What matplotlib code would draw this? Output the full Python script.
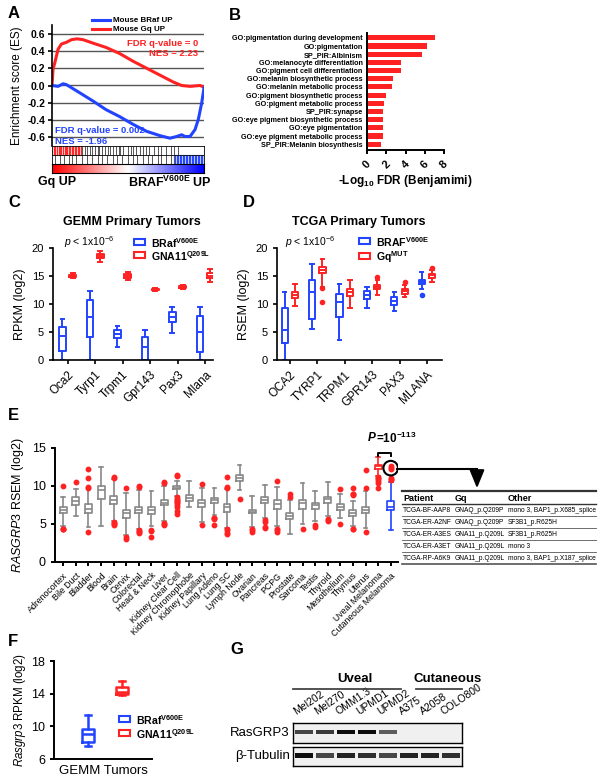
import numpy as np
import matplotlib
matplotlib.use('Agg')
import matplotlib.pyplot as plt
from matplotlib.patches import Rectangle
from matplotlib.colors import LinearSegmentedColormap

plt.rcParams['font.family'] = ['Liberation Sans', 'DejaVu Sans']
plt.rcParams['mathtext.fontset'] = 'custom'
plt.rcParams['mathtext.rm'] = 'Liberation Sans'
plt.rcParams['mathtext.it'] = 'Liberation Sans:italic'
plt.rcParams['mathtext.bf'] = 'Liberation Sans:bold'
plt.rcParams['mathtext.default'] = 'regular'

RED = '#ff2222'
BLUE = '#2244ff'
GRAY = '#888888'

# ---------------- data ----------------
# A: running enrichment score (rank fraction, ES)
gq_rank = [0, 0.007, 0.018, 0.04, 0.062, 0.095, 0.128, 0.165, 0.205, 0.27, 0.356, 0.445, 0.534, 0.622, 0.71, 0.798, 0.853, 0.908, 0.974, 1.0]
gq_es = [0, 0.19, 0.26, 0.42, 0.48, 0.50, 0.53, 0.54, 0.53, 0.49, 0.44, 0.37, 0.28, 0.20, 0.12, 0.04, 0.0, -0.01, 0.0, -0.02]
braf_rank = [0, 0.04, 0.073, 0.095, 0.183, 0.27, 0.356, 0.445, 0.534, 0.622, 0.71, 0.776, 0.82, 0.853, 0.875, 0.908, 0.941, 0.963, 0.985, 1.0]
braf_es = [0, -0.01, 0.02, 0.01, -0.085, -0.18, -0.28, -0.36, -0.45, -0.53, -0.58, -0.61, -0.59, -0.57, -0.59, -0.59, -0.51, -0.39, -0.20, -0.03]
gq_hits = [0.01, 0.02, 0.03, 0.045, 0.05, 0.06, 0.075, 0.085, 0.09, 0.10, 0.11, 0.12, 0.13, 0.14, 0.15,
           0.16, 0.17, 0.18, 0.19, 0.2, 0.215, 0.23, 0.25, 0.26, 0.28, 0.3, 0.31, 0.33, 0.35, 0.37, 0.38,
           0.4, 0.42, 0.44, 0.45, 0.47, 0.5, 0.52, 0.53, 0.55, 0.58, 0.6, 0.62, 0.64, 0.67, 0.7, 0.72,
           0.75, 0.78, 0.8, 0.83]
braf_hits = [0.02, 0.05, 0.08, 0.11, 0.13, 0.16, 0.2, 0.23, 0.26, 0.3, 0.33, 0.36, 0.4, 0.43, 0.46, 0.5,
             0.53, 0.56, 0.6, 0.63, 0.66, 0.7, 0.72, 0.75, 0.78, 0.8, 0.81, 0.82, 0.83, 0.84, 0.85, 0.86,
             0.87, 0.88, 0.89, 0.9, 0.91, 0.92, 0.93, 0.94, 0.95, 0.96, 0.97, 0.98, 0.99]

# B: GO terms
go_terms = ['GO:pigmentation during development', 'GO:pigmentation', 'SP_PIR:Albinism',
            'GO:melanocyte differentiation', 'GO:pigment cell differentiation',
            'GO:melanin biosynthetic process', 'GO:melanin metabolic process',
            'GO:pigment biosynthetic process', 'GO:pigment metabolic process', 'SP_PIR:synapse',
            'GO:eye pigment biosynthetic process', 'GO:eye pigmentation',
            'GO:eye pigment metabolic process', 'SP_PIR:Melanin biosynthesis']
go_fdr = [7.1, 6.2, 5.7, 3.5, 3.5, 2.7, 2.6, 2.0, 1.8, 1.7, 1.7, 1.7, 1.7, 1.5]

# C: GEMM tumors  [whislo, q1, med, q3, whishi]
c_genes = ['Oca2', 'Tyrp1', 'Trpm1', 'Gpr143', 'Pax3', 'Mlana']
c_braf = [[0, 1.6, 4.2, 5.9, 7.4], [0, 4.1, 7.7, 10.7, 12.3], [2.4, 4.0, 4.6, 5.4, 6.0],
          [0, 0, 2.4, 4.1, 5.3], [4.8, 6.7, 7.6, 8.5, 9.5], [0, 1.4, 5.0, 7.8, 9.4]]
c_gna11 = [[14.6, 14.8, 15.0, 15.2, 15.5], [17.5, 18.2, 18.6, 19.0, 19.4], [14.3, 14.7, 15.0, 15.4, 15.8],
           [12.4, 12.5, 12.6, 12.7, 12.8], [12.7, 12.8, 13.0, 13.2, 13.4], [14.0, 14.6, 15.0, 15.5, 16.2]]

# D: TCGA tumors
d_genes = ['OCA2', 'TYRP1', 'TRPM1', 'GPR143', 'PAX3', 'MLANA']
d_braf = [[0, 3.0, 5.3, 9.2, 12.1], [5.6, 7.3, 12.1, 14.2, 17.2], [3.6, 7.6, 10.3, 11.8, 13.6],
          [9.3, 10.9, 11.6, 12.4, 13.1], [8.7, 9.9, 10.6, 11.3, 12.2], [12.7, 13.5, 14.0, 14.3, 15.8]]
d_braf_out = [[], [], [], [], [], [11.6]]
d_gq = [[9.7, 11.1, 11.6, 12.1, 13.5], [13.0, 15.5, 16.1, 16.6, 18.0], [9.2, 11.5, 12.1, 12.7, 14.3],
        [11.6, 12.7, 13.0, 13.4, 14.3], [11.2, 11.8, 12.3, 12.7, 13.4], [13.9, 14.7, 15.1, 15.4, 16.0]]
d_gq_out = [[], [12.8, 10.4], [], [14.9], [13.9], [16.4]]

# E: RASGRP3 across TCGA
e_tissues = ['Adrenocortex', 'Bile Duct', 'Bladder', 'Blood', 'Brain', 'Cervix', 'Colorectal',
             'Head & Neck', 'Liver', 'Kidney Clear Cell', 'Kidney Chromophobe', 'Kidney Papillary',
             'Lung Adeno', 'Lung SC', 'Lymph Node', 'Ovarian', 'Pancreas', 'PCPG', 'Prostate',
             'Sarcoma', 'Testis', 'Thyroid', 'Mesothelium', 'Thymus', 'Uterus', 'Uveal Melanoma',
             'Cutaneous Melanoma']
e_stats = [[4.8, 6.5, 6.9, 7.3, 8.5], [6.1, 7.5, 8.0, 8.5, 9.6], [4.6, 6.4, 7.0, 7.6, 9.6],
           [4.7, 8.3, 9.5, 10.0, 12.5], [5.4, 7.6, 8.2, 8.7, 10.9], [3.6, 5.8, 6.4, 6.8, 9.1],
           [4.3, 6.4, 6.8, 7.2, 9.5], [4.8, 6.3, 6.8, 7.2, 9.3], [5.4, 7.5, 7.8, 8.2, 10.0],
           [8.7, 9.6, 9.8, 10.0, 10.7], [7.2, 8.0, 8.4, 8.8, 10.7], [5.3, 7.3, 7.8, 8.2, 9.7],
           [6.2, 7.8, 8.2, 8.4, 9.8], [4.5, 6.6, 7.2, 7.6, 9.6], [9.5, 10.7, 11.1, 11.4, 12.7],
           [4.6, 6.4, 6.6, 6.9, 8.7], [5.8, 7.8, 8.2, 8.5, 10.1], [4.7, 7.0, 7.6, 8.1, 9.9],
           [3.7, 5.6, 6.0, 6.5, 8.1], [5.0, 7.0, 7.7, 8.1, 10.4], [5.4, 7.0, 7.5, 7.8, 9.4],
           [6.0, 7.8, 8.3, 8.6, 10.5], [5.8, 6.9, 7.3, 7.6, 9.0], [4.8, 6.1, 6.4, 6.8, 8.0],
           [4.5, 6.4, 6.8, 7.2, 9.3], [11.3, 12.3, 12.6, 12.8, 13.8], [4.2, 6.8, 7.3, 8.0, 10.5]]
e_outliers = [[10.0, 4.4, 4.3, 4.4], [10.5], [12.3, 11.0, 9.9, 9.8, 3.9], [], [11.2, 11.1, 5.2, 5.0, 4.9, 5.1],
              [9.8, 3.0, 3.3], [10.0, 9.9, 4.1, 4.0, 3.8, 4.2], [4.2, 4.1, 3.3], [10.5, 10.4, 5.1, 5.0, 4.9],
              [11.4, 11.3, 8.5, 8.2, 8.0, 7.8, 7.5, 7.2, 6.7, 6.3, 8.3, 7.9], [], [10.3, 4.9],
              [5.8, 5.6, 4.9, 5.8], [11.2, 9.9, 9.8, 4.3, 4.2, 3.8, 3.7], [8.3], [4.3, 4.2, 3.9],
              [5.5, 5.3, 4.5, 4.6], [10.6, 4.4, 4.2, 4.0], [8.6, 9.0], [4.4], [4.9, 4.6], [5.6, 5.5, 5.4],
              [9.6, 5.0], [8.9, 9.7, 8.8, 9.0, 4.4, 4.3], [9.8, 12.1, 3.9], [11.0, 10.9, 10.6, 10.4, 9.8, 11.2],
              [10.9, 10.8, 11.0, 12.3, 12.6, 12.4]]
e_circled = 12.35

# table
tab_patient = ['TCGA-BF-AAP8', 'TCGA-ER-A2NF', 'TCGA-ER-A3ES', 'TCGA-ER-A3ET', 'TCGA-RP-A6K9']
tab_gq = ['GNAQ_p.Q209P', 'GNAQ_p.Q209P', 'GNA11_p.Q209L', 'GNA11_p.Q209L', 'GNA11_p.Q209L']
tab_other = ['mono 3, BAP1_p.X685_splice', 'SF3B1_p.R625H', 'SF3B1_p.R625H', 'mono 3',
             'mono 3, BAP1_p.X187_splice']

# F
f_braf = [7.6, 8.1, 9.1, 9.7, 11.4]
f_gna11 = [13.8, 13.9, 14.2, 14.8, 15.5]

# G: western blot band intensities
g_lanes = ['Mel202', 'Mel270', 'OMM1.3', 'UPMD1', 'UPMD2', 'A375', 'A2058', 'COLO800']
g_rasgrp3 = [0.75, 0.8, 1.0, 1.0, 0.65, 0, 0, 0]
g_tubulin = [1.0, 0.75, 0.9, 0.85, 0.75, 0.9, 0.9, 0.85]

# ---------------- layout helpers ----------------
W, H = 604, 784
fig = plt.figure(figsize=(W / 100, H / 100), dpi=100)


def rect(x0, y0, x1, y1):
    return [x0 / W, 1 - y1 / H, (x1 - x0) / W, (y1 - y0) / H]


def style(ax, lw=1.2):
    for s in ['top', 'right']:
        ax.spines[s].set_visible(False)
    for s in ['left', 'bottom']:
        ax.spines[s].set_linewidth(lw)
    ax.tick_params(width=lw, length=3)


def boxes(ax, vals, pos, color, width, fliers=None, fcolor=None, lw=1.4, ms=3):
    st = []
    for i, v in enumerate(vals):
        st.append(dict(whislo=v[0], q1=v[1], med=v[2], q3=v[3], whishi=v[4],
                       fliers=(fliers[i] if fliers else [])))
    fc = fcolor or color
    ax.bxp(st, positions=pos, widths=width, capwidths=width * 0.55, manage_ticks=False,
           boxprops=dict(color=color, lw=lw), whiskerprops=dict(color=color, lw=lw),
           capprops=dict(color=color, lw=lw), medianprops=dict(color=color, lw=lw),
           flierprops=dict(marker='o', markerfacecolor=fc, markeredgecolor=fc, markersize=ms, lw=0))


# ---------------- A ----------------
axA = fig.add_axes(rect(52, 25, 204, 146))
for t in np.arange(-0.6, 0.61, 0.2):
    axA.axhline(t, color='#555555', lw=1, zorder=0)
axA.plot(gq_rank, gq_es, color=RED, lw=2.2)
axA.plot(braf_rank, braf_es, color=BLUE, lw=2.2)
axA.set_xlim(0, 1)
axA.set_ylim(-0.7, 0.7)
axA.set_yticks(np.round(np.arange(-0.6, 0.61, 0.2), 1))
axA.set_yticklabels(['%.1f' % v for v in np.arange(-0.6, 0.61, 0.2)], fontweight='bold', fontsize=7.5)
axA.set_xticks([])
for s in ['top', 'right', 'bottom']:
    axA.spines[s].set_visible(False)
axA.spines['left'].set_linewidth(1.2)
axA.tick_params(axis='y', width=1.2, length=3, pad=2)
axA.set_ylabel('Enrichment score (ES)', fontsize=8.5, labelpad=3)
axA.text(0.96, 0.49, 'FDR q-value = 0', color=RED, fontsize=6.8, fontweight='bold', ha='right', va='center')
axA.text(0.96, 0.365, 'NES = 2.23', color=RED, fontsize=6.8, fontweight='bold', ha='right', va='center')
axA.text(0.02, -0.52, 'FDR q-value = 0.002', color=BLUE, fontsize=6.8, fontweight='bold', va='center')
axA.text(0.02, -0.645, 'NES = -1.96', color=BLUE, fontsize=6.8, fontweight='bold', va='center')

axBar = fig.add_axes(rect(52, 146, 204, 164))
for h in gq_hits:
    axBar.vlines(h, 1, 2, color=(RED if h < 0.2 else '#555555'), lw=0.7)
for h in braf_hits:
    axBar.vlines(h, 0, 1, color=(BLUE if h > 0.8 else '#555555'), lw=0.7)
axBar.axvspan(0, 0.2, ymin=0.5, ymax=1, color='#f7c4c4', zorder=0)
axBar.axvspan(0.8, 1, ymin=0, ymax=0.5, color='#b9c6fb', zorder=0)
axBar.axhline(1, color='k', lw=0.6)
axBar.set_xlim(0, 1)
axBar.set_ylim(0, 2)
axBar.set_xticks([])
axBar.set_yticks([])
for s in axBar.spines.values():
    s.set_linewidth(0.6)

axGrad = fig.add_axes(rect(52, 164, 204, 173))
cm = LinearSegmentedColormap.from_list('rwb', ['#ff0000', '#ffffff', '#0000ff'])
axGrad.imshow(np.linspace(0, 1, 256)[None, :], aspect='auto', cmap=cm)
axGrad.set_xticks([])
axGrad.set_yticks([])

# ---------------- B ----------------
axB = fig.add_axes(rect(367, 33, 444, 150))
axB.barh(range(len(go_terms)), go_fdr, height=0.62, color=RED)
axB.set_ylim(13.71, -0.59)
axB.set_xlim(0, 8)
axB.set_yticks(range(len(go_terms)))
axB.set_yticklabels(go_terms, fontsize=5.2, fontweight='bold')
axB.set_xticks([0, 2, 4, 6, 8])
axB.set_xticklabels(['0', '2', '4', '6', '8'], rotation=45, fontweight='bold', fontsize=8)
style(axB, 1.4)
axB.tick_params(axis='y', length=0, pad=3)
axB.set_xlabel('-Log$_{10}$ FDR (Benjamimi)', fontsize=8.5, fontweight='bold', labelpad=2)

# ---------------- C ----------------
axC = fig.add_axes(rect(53, 248, 213, 360))
xc = np.arange(len(c_genes))
boxes(axC, c_braf, xc - 0.19, BLUE, 0.24)
boxes(axC, c_gna11, xc + 0.19, RED, 0.24)
axC.set_xlim(-0.53, 5.29)
axC.set_ylim(0, 20)
axC.set_yticks([0, 5, 10, 15, 20])
axC.set_xticks(xc)
axC.set_xticklabels(c_genes, rotation=45, ha='right', rotation_mode='anchor', fontsize=8.5)
axC.tick_params(axis='y', labelsize=8)
axC.set_ylabel('RPKM (log2)', fontsize=9)
style(axC)

# ---------------- D ----------------
axD = fig.add_axes(rect(277, 248, 442, 360))
xd = np.arange(len(d_genes))
boxes(axD, d_braf, xd - 0.19, BLUE, 0.22, d_braf_out)
boxes(axD, d_gq, xd + 0.19, RED, 0.22, d_gq_out)
axD.set_xlim(-0.47, 5.55)
axD.set_ylim(0, 20)
axD.set_yticks([0, 5, 10, 15, 20])
axD.set_xticks(xd)
axD.set_xticklabels(d_genes, rotation=45, ha='right', rotation_mode='anchor', fontsize=8.5)
axD.tick_params(axis='y', labelsize=8)
axD.set_ylabel('RSEM (log2)', fontsize=9)
style(axD)

# ---------------- E ----------------
axE = fig.add_axes(rect(55, 448, 398, 562))
xe = np.arange(len(e_tissues))
boxes(axE, e_stats[:25], xe[:25], GRAY, 0.55, e_outliers[:25], RED, lw=1.2, ms=3.2)
boxes(axE, e_stats[25:26], xe[25:26], RED, 0.55, e_outliers[25:26], RED, lw=1.2, ms=3.2)
boxes(axE, e_stats[26:], xe[26:], BLUE, 0.55, e_outliers[26:], RED, lw=1.2, ms=3.2)
axE.scatter([xe[26]], [e_circled], s=110, facecolors='none', edgecolors='k', lw=1.5, zorder=5)
axE.plot([25, 25, 26, 26], [14.0, 14.4, 14.4, 14.0], color='k', lw=1.4)
axE.set_xlim(-0.66, 26.58)
axE.set_ylim(0, 15)
axE.set_yticks([0, 5, 10, 15])
axE.set_xticks(xe)
axE.set_xticklabels(e_tissues, rotation=45, ha='right', rotation_mode='anchor', fontsize=6.3)
axE.tick_params(axis='y', labelsize=9)
axE.set_ylabel('$\\it{RASGRP3}$ RSEM (log2)', fontsize=9)
style(axE, 1.4)

# ---------------- F ----------------
axF = fig.add_axes(rect(54, 661, 152, 759))
boxes(axF, [f_braf], [0], BLUE, 0.36, lw=1.8)
boxes(axF, [f_gna11], [1], RED, 0.36, lw=1.8)
axF.set_xlim(-1.0, 1.88)
axF.set_ylim(6, 18)
axF.set_yticks([6, 10, 14, 18])
axF.set_xticks([])
axF.tick_params(axis='y', labelsize=9)
axF.set_ylabel('$\\it{Rasgrp3}$ RPKM (log2)', fontsize=8.3, labelpad=2)
axF.set_xlabel('GEMM Tumors', fontsize=9.5, labelpad=4)
style(axF, 1.4)

# ---------------- G ----------------
lanes = np.arange(len(g_lanes))
for (y0, y1, vals, th, name) in [(723, 743, g_rasgrp3, 0.2, 'RasGRP3'), (747, 766, g_tubulin, 0.24, '\u03b2-Tubulin')]:
    axg = fig.add_axes(rect(293, y0, 462, y1))
    axg.set_facecolor('#f0f0f0')
    for i, v in zip(lanes, vals):
        axg.bar(i, th * (0.6 + 0.4 * v), bottom=0.55 - th * (0.6 + 0.4 * v) / 2, width=0.85,
                color=(0.05, 0.05, 0.05, v), lw=0)
    axg.set_xlim(-0.5, 7.5)
    axg.set_ylim(0, 1)
    axg.set_yticks([])
    axg.set_xticks([])
    for s in axg.spines.values():
        s.set_linewidth(1.0)
    axg.text(-0.02, 0.5, name, transform=axg.transAxes, ha='right', va='center', fontsize=9.5)
    if name == 'RasGRP3':
        for i, lab in zip(lanes, g_lanes):
            axg.text(i - 0.3, 1.3, lab, rotation=34, rotation_mode='anchor', ha='left', va='bottom',
                     fontsize=7.5)

# ---------------- overlay annotations ----------------
ov = fig.add_axes([0, 0, 1, 1])
ov.set_xlim(0, W)
ov.set_ylim(H, 0)
ov.axis('off')
ov.patch.set_alpha(0)

for lab, x, y in [('A', 8, 13), ('B', 229, 15), ('C', 8, 202), ('D', 243, 202), ('E', 8, 415),
                  ('F', 8, 641), ('G', 230, 650)]:
    ov.text(x, y, lab, fontsize=12, fontweight='bold', va='center')

# A legend and labels
ov.plot([92, 110], [20, 20], color=BLUE, lw=2.2)
ov.plot([92, 110], [29, 29], color=RED, lw=2.2)
ov.text(113, 20, 'Mouse BRaf UP', fontsize=5.8, fontweight='bold', va='center')
ov.text(113, 29, 'Mouse Gq UP', fontsize=5.8, fontweight='bold', va='center')
ov.text(38, 182, 'Gq UP', fontsize=9, fontweight='bold', va='center')
ov.text(212, 182, 'BRAF$^{V600E}$ UP', fontsize=9, fontweight='bold', va='center', ha='right')

# C / D titles and legends
ov.text(132, 222, 'GEMM Primary Tumors', fontsize=9, fontweight='bold', ha='center', va='center')
ov.text(359, 222, 'TCGA Primary Tumors', fontsize=9, fontweight='bold', ha='center', va='center')
ov.text(64, 242, '$\\it{p}$ < 1x10$^{-6}$', fontsize=7.5, va='center')
ov.text(285, 242, '$\\it{p}$ < 1x10$^{-6}$', fontsize=7.5, va='center')
for (x, y, c, t) in [(134, 239, BLUE, 'BRaf$^{V600E}$'), (134, 252, RED, 'GNA11$^{Q209L}$'),
                     (359, 238, BLUE, 'BRAF$^{V600E}$'), (359, 253, RED, 'Gq$^{MUT}$'),
                     (119, 716, BLUE, 'BRaf$^{V600E}$'), (119, 730, RED, 'GNA11$^{Q209L}$')]:
    ov.add_patch(Rectangle((x, y), 11, 6, fill=False, edgecolor=c, lw=1.5))
    ov.text(x + 17, y + 4, t, fontsize=7.6, fontweight='bold', va='center')

# E p-value and arrow to table
ov.text(376, 438, 'P', fontsize=8.5, fontweight='bold', fontstyle='italic', ha='right', va='center')
ov.text(376, 438, '=10$^{-113}$', fontsize=8.5, fontweight='bold', ha='left', va='center')
ov.plot([397, 477], [468.5, 468.5], color='k', lw=1.5)
ov.annotate('', xy=(477, 491), xytext=(477, 467.8),
            arrowprops=dict(arrowstyle='-|>,head_width=0.45,head_length=1.1', color='k', lw=1.5))

# table
tx = [403, 455, 508]
ov.plot([402, 596], [491, 491], color='#333333', lw=1.6)
ov.plot([402, 596], [504, 504], color='#333333', lw=1.0)
for j, hdr in enumerate(['Patient', 'Gq', 'Other']):
    ov.text(tx[j], 498, hdr, fontsize=6.5, fontweight='bold', va='center')
for i in range(len(tab_patient)):
    yc = 510 + 12 * i
    for j, col in enumerate([tab_patient, tab_gq, tab_other]):
        ov.text(tx[j], yc, col[i], fontsize=4.8, va='center')
    ov.plot([402, 596], [yc + 6, yc + 6], color='#555555', lw=(1.2 if i == len(tab_patient) - 1 else 0.6))

# G headers
ov.text(355, 679, 'Uveal', fontsize=9.5, fontweight='bold', ha='center', va='center')
ov.text(448, 679, 'Cutaneous', fontsize=9.5, fontweight='bold', ha='center', va='center')
ov.plot([293, 401], [689, 689], color='#444444', lw=1.3)
ov.plot([416, 462], [689, 689], color='#444444', lw=1.3)

fig.savefig('out.png', dpi=100)
